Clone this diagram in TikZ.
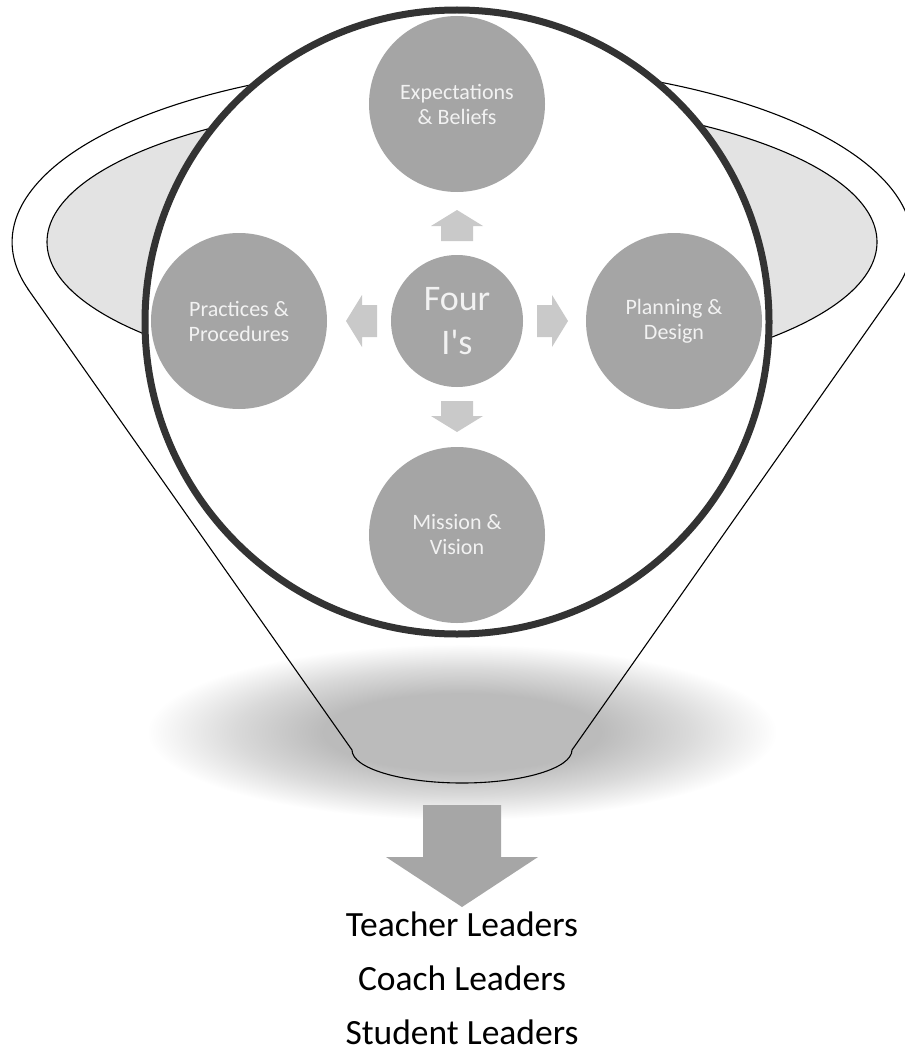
\documentclass[tikz,border=0pt]{standalone}
\usepackage{fontspec}
\setmainfont{Carlito}
\definecolor{circ}{HTML}{A5A5A5}
\definecolor{arr}{HTML}{C9C9C9}
\definecolor{ring}{HTML}{333333}
\definecolor{rim}{HTML}{E3E3E3}
\definecolor{txt}{HTML}{F2F2F2}
\definecolor{shad}{HTML}{BBBBBB}
\definecolor{bigarr}{HTML}{A6A6A6}
\pgfdeclareradialshading{shadowfade}{\pgfpoint{0bp}{0bp}}{color(0bp)=(shad); color(11bp)=(shad); color(18bp)=(shad!55!white); color(25bp)=(white); color(50bp)=(white)}
\tikzset{
  funnelline/.style={draw=black, line width=1.1pt},
  satellite/.style={circle, fill=circ, minimum size=176pt, inner sep=0pt, text=txt, align=center, font=\fontsize{22}{25}\selectfont},
  hub/.style={circle, fill=circ, minimum size=132pt, inner sep=0pt, text=txt, align=center, font=\fontsize{36}{44}\selectfont},
  leader/.style={anchor=base, text=black, inner sep=0pt, font=\fontsize{35.5}{40}\selectfont},
}
\begin{document}
\begin{tikzpicture}[x=1pt, y=-1pt]
\useasboundingbox (0,0) rectangle (904,1051);
% shadow
\shade[shading=shadowfade] (462,732) ellipse[x radius=315, y radius=88];
% funnel outline
\draw[funnelline] (28.1,289.3) -- (352,750)
  arc[start angle=180, end angle=0, x radius=110, y radius=33]
  -- (895.9,289.3)
  arc[start angle=15.4, end angle=-195.4, x radius=450, y radius=178] -- cycle;
% inner rim
\draw[funnelline, fill=rim] (462,242) ellipse[x radius=415, y radius=143];
% big lens circle
\node[circle, draw=ring, line width=7pt, fill=white, minimum size=624pt, inner sep=0pt] (lens) at (457,322) {};
% satellites
\node[satellite] (top) at (457,104) {Expectations\\\& Beliefs};
\node[satellite] (left) at (239,321) {Practices \&\\Procedures};
\node[satellite] (right) at (674,321) {Planning \&\\Design};
\node[satellite] (bottom) at (457,535) {Mission \&\\Vision};
% hub
\node[hub] (c) at (457,321) {Four\\I\textquotesingle s};
% small block arrows
\foreach \a in {0,90,180,270}
  \fill[arr, shift={(c.center)}, rotate=\a]
    (80,-16) -- (95,-16) -- (95,-26) -- (111,0) -- (95,26) -- (95,16) -- (80,16) -- cycle;
% big down arrow
\coordinate (bt) at (462,907);
\fill[bigarr] (423,805) -- (501,805) -- (501,857) -- (538,857) -- (bt) -- (386,857) -- (423,857) -- cycle;
% leaders
\node[leader] (l1) at (462,936) {Teacher Leaders};
\node[leader] (l2) at (462,990) {Coach Leaders};
\node[leader] (l3) at (462,1044) {Student Leaders};
\end{tikzpicture}
\end{document}
